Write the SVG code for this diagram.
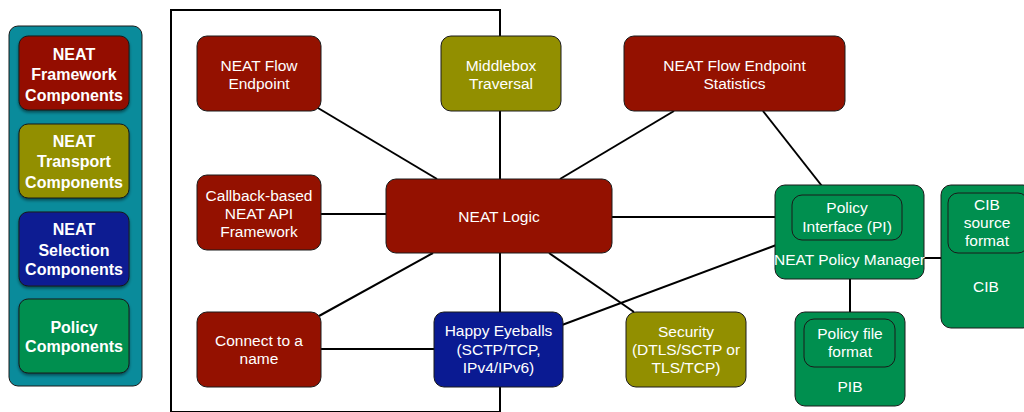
<svg xmlns="http://www.w3.org/2000/svg" width="1024" height="412" viewBox="0 0 1024 412">
<defs>
<filter id="sh" x="-10%" y="-10%" width="125%" height="130%">
<feDropShadow dx="0" dy="2" stdDeviation="1.5" flood-color="#000" flood-opacity="0.45"/>
</filter>
</defs>
<style>
.n{stroke:#1a1a1a;stroke-width:1}
.red{fill:#941100}.olive{fill:#928f00}.blue{fill:#0a1a92}.green{fill:#008f4f}
.t{font-family:"Liberation Sans",Arial,sans-serif;font-size:15.5px;fill:#fff;text-anchor:middle}
.b{font-family:"Liberation Sans",Arial,sans-serif;font-size:16px;font-weight:bold;fill:#fff;text-anchor:middle}
.c{stroke:#000;stroke-width:2;fill:none}
</style>
<rect width="1024" height="412" fill="#fff"/>
<g id="legend">
<rect x="9" y="26" width="133" height="360" rx="9" fill="#0a8b9b" stroke="#1a1a1a" stroke-width="1"/>
<g id="leg-framework"><rect class="n red" x="19" y="36" width="110" height="74" rx="9" filter="url(#sh)"/>
<text class="b" x="74" y="59.5">NEAT</text><text class="b" x="74" y="79.5">Framework</text><text class="b" x="74" y="100.5">Components</text></g>
<g id="leg-transport"><rect class="n olive" x="19" y="124" width="110" height="74" rx="9" filter="url(#sh)"/>
<text class="b" x="74" y="147">NEAT</text><text class="b" x="74" y="167">Transport</text><text class="b" x="74" y="188">Components</text></g>
<g id="leg-selection"><rect class="n blue" x="19" y="212" width="110" height="74" rx="9" filter="url(#sh)"/>
<text class="b" x="74" y="235">NEAT</text><text class="b" x="74" y="255.5">Selection</text><text class="b" x="74" y="275">Components</text></g>
<g id="leg-policy"><rect class="n green" x="19" y="299" width="110" height="74" rx="9" filter="url(#sh)"/>
<text class="b" x="74" y="333">Policy</text><text class="b" x="74" y="351.5">Components</text></g>
</g>
<rect id="frame" x="171" y="10" width="329" height="402" fill="none" stroke="#000" stroke-width="2"/>
<g id="connectors">
<line class="c" x1="318" y1="108" x2="437" y2="179"/>
<line class="c" x1="321" y1="214" x2="386" y2="214"/>
<line class="c" x1="560" y1="179" x2="674" y2="111"/>
<line class="c" x1="763" y1="111" x2="829" y2="195"/>
<line class="c" x1="612" y1="217" x2="792" y2="217"/>
<line class="c" x1="562" y1="325" x2="795" y2="238"/>
<line class="c" x1="549" y1="253" x2="634" y2="312"/>
<line class="c" x1="433" y1="253" x2="319" y2="316"/>
<line class="c" x1="321" y1="349" x2="434" y2="349"/>
<line class="c" x1="924" y1="258" x2="941" y2="258"/>
<line class="c" x1="850" y1="279" x2="850" y2="312"/>
</g>
<g id="flow-endpoint"><rect class="n red" x="197" y="36" width="124" height="75" rx="10"/>
<text class="t" x="259" y="70.5">NEAT Flow</text><text class="t" x="259" y="88.5">Endpoint</text></g>
<g id="middlebox"><rect class="n olive" x="441" y="36" width="120" height="75" rx="10"/>
<text class="t" x="501" y="70.5">Middlebox</text><text class="t" x="501" y="88.5">Traversal</text></g>
<g id="statistics"><rect class="n red" x="624" y="36" width="221" height="75" rx="10"/>
<text class="t" x="734.5" y="70.5">NEAT Flow Endpoint</text><text class="t" x="734.5" y="88.5">Statistics</text></g>
<g id="callback"><rect class="n red" x="197" y="175" width="124" height="75" rx="10"/>
<text class="t" x="259" y="200.5">Callback-based</text><text class="t" x="259" y="218.5">NEAT API</text><text class="t" x="259" y="236.5">Framework</text></g>
<g id="neat-logic"><rect class="n red" x="386" y="179" width="226" height="74" rx="10"/>
<text class="t" x="499" y="221.5">NEAT Logic</text></g>
<g id="policy-manager"><rect class="n green" x="775" y="185" width="149" height="94" rx="10"/>
<rect class="n green" x="792" y="195" width="110" height="45" rx="10"/>
<text class="t" x="847" y="213">Policy</text><text class="t" x="847" y="231.5">Interface (PI)</text>
<text class="t" x="849.5" y="265">NEAT Policy Manager</text></g>
<g id="cib"><rect class="n green" x="941" y="185" width="92" height="143" rx="10"/>
<rect class="n green" x="948" y="193" width="80" height="60" rx="10"/>
<text class="t" x="987" y="209.5">CIB</text><text class="t" x="987" y="227.5">source</text><text class="t" x="987" y="245.5">format</text>
<text class="t" x="986" y="292">CIB</text></g>
<g id="pib"><rect class="n green" x="795" y="312" width="110" height="94" rx="10"/>
<rect class="n green" x="804" y="319" width="91" height="48" rx="10"/>
<text class="t" x="850" y="338.5">Policy file</text><text class="t" x="850" y="356.5">format</text>
<text class="t" x="850" y="391.5">PIB</text></g>
<g id="connect-name"><rect class="n red" x="197" y="312" width="124" height="75" rx="10"/>
<text class="t" x="259" y="346">Connect to a</text><text class="t" x="259" y="364">name</text></g>
<g id="happy-eyeballs"><rect class="n blue" x="434" y="312" width="129" height="75" rx="10"/>
<text class="t" x="498.5" y="335.5">Happy Eyeballs</text><text class="t" x="498.5" y="354.5">(SCTP/TCP,</text><text class="t" x="498.5" y="372.5">IPv4/IPv6)</text></g>
<g id="security"><rect class="n olive" x="626" y="312" width="120" height="75" rx="10"/>
<text class="t" x="686" y="336.5">Security</text><text class="t" x="686" y="354.5">(DTLS/SCTP or</text><text class="t" x="686" y="372.5">TLS/TCP)</text></g>
</svg>
